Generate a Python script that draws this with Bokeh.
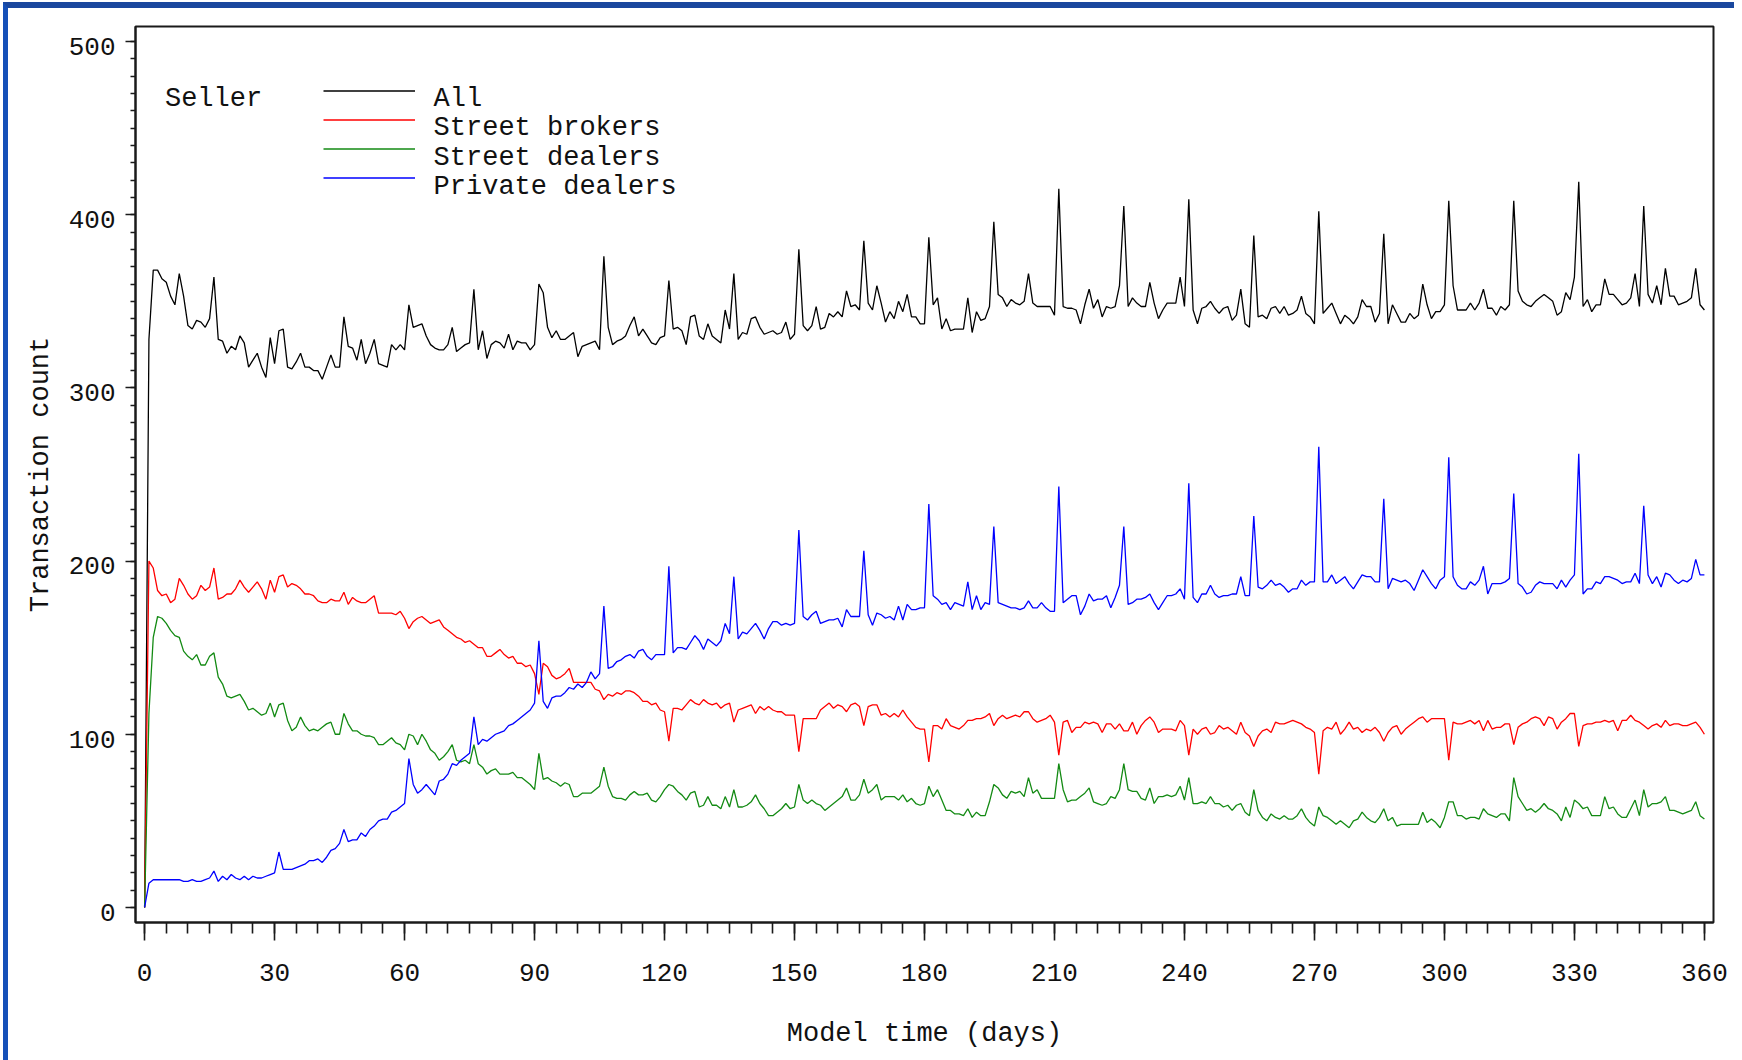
from bokeh.plotting import figure
from bokeh.models import Range1d, FixedTicker, Legend, LegendItem, Label
from bokeh.core.properties import value
from bokeh.embed import file_html
from bokeh.resources import INLINE

# ---------------- data ----------------
days = list(range(0, 361))

all_sellers = [
    0, 328, 368, 368, 363, 361, 353, 348, 366, 353,
    336, 334, 339, 338, 335, 340, 364, 328, 327, 320,
    324, 322, 330, 326, 312, 316, 320, 312, 306, 329,
    314, 333, 334, 312, 311, 315, 320, 312, 312, 310,
    310, 305, 312, 319, 312, 312, 341, 324, 323, 316,
    328, 314, 320, 328, 314, 313, 312, 325, 322, 325,
    322, 348, 335, 336, 337, 330, 325, 323, 322, 322,
    325, 335, 321, 323, 325, 326, 357, 322, 333, 317,
    325, 327, 326, 323, 331, 322, 327, 326, 326, 322,
    325, 360, 355, 335, 329, 333, 328, 328, 330, 332,
    318, 324, 325, 326, 327, 322, 376, 335, 325, 327,
    328, 330, 336, 341, 330, 334, 330, 326, 325, 329,
    330, 362, 334, 335, 333, 325, 341, 342, 330, 328,
    337, 330, 328, 326, 345, 334, 366, 328, 332, 331,
    340, 341, 335, 331, 332, 333, 331, 332, 338, 328,
    331, 380, 336, 333, 336, 347, 334, 335, 343, 341,
    344, 341, 356, 347, 348, 345, 385, 349, 345, 359,
    349, 338, 344, 340, 350, 344, 354, 341, 341, 337,
    337, 387, 348, 352, 334, 340, 333, 334, 334, 334,
    352, 332, 344, 339, 340, 347, 396, 354, 352, 347,
    351, 349, 348, 350, 366, 349, 347, 347, 347, 347,
    342, 415, 347, 346, 346, 345, 337, 348, 357, 346,
    351, 341, 347, 346, 347, 359, 405, 347, 352, 349,
    347, 347, 361, 349, 340, 345, 349, 349, 349, 364,
    347, 409, 345, 337, 346, 347, 350, 346, 343, 346,
    347, 339, 342, 357, 337, 335, 388, 341, 342, 340,
    346, 347, 343, 347, 342, 343, 345, 353, 343, 341,
    337, 402, 343, 346, 349, 343, 337, 342, 340, 337,
    341, 351, 347, 347, 338, 343, 389, 337, 348, 343,
    338, 338, 343, 340, 342, 360, 348, 340, 344, 344,
    348, 408, 359, 345, 345, 345, 349, 345, 349, 357,
    346, 346, 342, 347, 345, 348, 408, 356, 350, 348,
    347, 350, 352, 354, 352, 350, 342, 344, 355, 351,
    364, 419, 347, 351, 344, 348, 348, 363, 354, 354,
    351, 348, 349, 352, 366, 347, 405, 354, 349, 359,
    348, 369, 353, 353, 348, 349, 350, 352, 369, 348,
    345,
]

street_brokers = [
    0, 200, 196, 183, 180, 181, 176, 178, 190, 186,
    181, 178, 180, 186, 183, 185, 196, 178, 179, 181,
    181, 184, 189, 185, 182, 185, 188, 184, 178, 189,
    182, 191, 192, 185, 187, 186, 184, 181, 181, 180,
    177, 176, 176, 178, 177, 177, 182, 175, 179, 177,
    176, 176, 178, 180, 170, 170, 170, 170, 169, 171,
    167, 161, 165, 167, 168, 166, 164, 165, 166, 162,
    160, 158, 156, 155, 153, 154, 152, 150, 150, 145,
    145, 147, 149, 146, 144, 145, 141, 141, 139, 140,
    135, 123, 141, 139, 134, 132, 133, 135, 138, 130,
    130, 130, 130, 130, 126, 125, 120, 123, 122, 124,
    123, 125, 125, 124, 122, 119, 119, 117, 118, 114,
    113, 96, 115, 115, 114, 117, 120, 118, 117, 120,
    118, 117, 118, 115, 117, 118, 107, 114, 115, 116,
    117, 112, 116, 114, 116, 114, 113, 113, 111, 111,
    111, 90, 109, 109, 109, 109, 114, 116, 118, 115,
    117, 116, 113, 117, 118, 116, 105, 116, 117, 117,
    111, 112, 110, 112, 110, 114, 110, 107, 104, 103,
    103, 84, 105, 105, 103, 109, 105, 104, 103, 105,
    108, 108, 109, 109, 110, 112, 105, 109, 111, 109,
    110, 111, 110, 113, 113, 109, 107, 108, 109, 111,
    107, 88, 107, 108, 101, 104, 104, 107, 106, 107,
    106, 101, 106, 106, 103, 106, 102, 102, 107, 100,
    105, 108, 110, 107, 101, 103, 103, 103, 102, 108,
    105, 88, 103, 100, 103, 104, 100, 101, 105, 103,
    104, 102, 100, 107, 101, 99, 93, 99, 102, 103,
    101, 107, 106, 106, 107, 108, 107, 106, 104, 103,
    101, 77, 102, 104, 103, 107, 100, 103, 107, 103,
    104, 101, 103, 102, 104, 101, 96, 101, 104, 105,
    100, 103, 105, 107, 109, 110, 107, 109, 109, 109,
    109, 85, 107, 106, 106, 107, 108, 106, 108, 102,
    108, 103, 104, 104, 106, 106, 94, 104, 106, 107,
    109, 110, 109, 105, 110, 109, 103, 107, 109, 112,
    112, 93, 105, 106, 106, 107, 107, 108, 107, 108,
    102, 108, 108, 111, 108, 107, 105, 103, 105, 106,
    104, 108, 105, 106, 106, 105, 105, 106, 107, 104,
    100,
]

street_dealers = [
    0, 112, 156, 168, 167, 164, 160, 157, 156, 148,
    145, 143, 146, 140, 140, 145, 147, 133, 129, 122,
    121, 122, 123, 119, 114, 115, 113, 111, 112, 118,
    110, 117, 118, 108, 102, 104, 110, 105, 102, 103,
    102, 104, 106, 107, 100, 100, 112, 106, 102, 102,
    100, 99, 99, 98, 94, 94, 96, 98, 95, 94,
    91, 100, 99, 94, 100, 96, 91, 89, 85, 87,
    90, 94, 85, 84, 85, 83, 94, 83, 81, 77,
    79, 80, 77, 77, 77, 78, 75, 75, 73, 71,
    68, 89, 74, 75, 73, 72, 70, 72, 71, 64,
    64, 66, 66, 66, 68, 70, 81, 70, 64, 63,
    63, 62, 65, 67, 65, 65, 66, 62, 61, 64,
    68, 71, 70, 67, 65, 62, 66, 67, 58, 59,
    64, 59, 59, 57, 64, 58, 68, 58, 58, 59,
    61, 65, 60, 57, 53, 53, 55, 57, 60, 57,
    58, 71, 62, 60, 62, 60, 59, 56, 58, 60,
    62, 64, 69, 62, 62, 65, 74, 66, 68, 71,
    62, 64, 64, 64, 62, 65, 61, 63, 60, 59,
    60, 70, 64, 68, 62, 56, 56, 54, 54, 53,
    57, 52, 55, 53, 53, 61, 71, 69, 65, 63,
    67, 66, 67, 64, 75, 66, 68, 63, 63, 63,
    63, 83, 68, 61, 62, 62, 64, 66, 69, 61,
    60, 59, 60, 64, 63, 68, 83, 68, 67, 67,
    63, 62, 69, 60, 64, 64, 65, 64, 65, 70,
    62, 75, 60, 60, 61, 60, 64, 60, 60, 58,
    59, 56, 59, 60, 55, 53, 68, 56, 52, 50,
    54, 52, 51, 53, 51, 51, 53, 57, 52, 49,
    47, 58, 53, 52, 50, 48, 50, 48, 46, 50,
    51, 55, 52, 50, 49, 52, 57, 50, 52, 47,
    48, 48, 48, 48, 48, 55, 49, 51, 49, 46,
    52, 61, 61, 53, 53, 51, 52, 52, 51, 57,
    54, 53, 52, 54, 54, 50, 75, 64, 60, 56,
    57, 55, 57, 60, 57, 56, 54, 50, 58, 52,
    62, 60, 57, 58, 53, 53, 53, 64, 57, 58,
    54, 52, 52, 57, 62, 53, 68, 58, 60, 60,
    61, 64, 56, 56, 55, 54, 55, 56, 61, 53,
    51,
]

private_dealers = [
    0, 14, 16, 16, 16, 16, 16, 16, 16, 15,
    15, 16, 15, 15, 16, 17, 21, 15, 18, 16,
    19, 17, 16, 18, 16, 18, 17, 17, 18, 19,
    20, 32, 22, 22, 22, 23, 24, 25, 27, 27,
    28, 26, 29, 33, 34, 37, 45, 38, 39, 39,
    43, 41, 45, 47, 50, 51, 51, 55, 56, 58,
    60, 86, 71, 66, 68, 71, 68, 65, 73, 74,
    77, 83, 82, 85, 87, 89, 110, 94, 97, 96,
    98, 100, 101, 102, 105, 106, 108, 110, 112, 114,
    118, 154, 119, 115, 121, 122, 122, 124, 127, 126,
    129, 127, 130, 136, 132, 135, 174, 138, 139, 142,
    143, 145, 146, 144, 148, 149, 145, 143, 146, 146,
    146, 197, 147, 150, 150, 149, 153, 157, 154, 149,
    155, 153, 151, 154, 164, 158, 191, 155, 159, 158,
    161, 164, 160, 155, 161, 165, 165, 163, 164, 163,
    164, 218, 168, 166, 169, 171, 164, 165, 166, 166,
    167, 162, 172, 168, 168, 168, 206, 169, 163, 170,
    169, 167, 168, 166, 174, 166, 175, 172, 172, 173,
    173, 233, 180, 178, 175, 176, 172, 176, 175, 174,
    188, 172, 180, 172, 176, 175, 220, 176, 175, 174,
    173, 173, 172, 173, 177, 173, 173, 176, 173, 171,
    171, 243, 176, 178, 180, 180, 169, 174, 181, 177,
    178, 178, 180, 173, 179, 186, 220, 175, 176, 178,
    178, 179, 181, 176, 172, 176, 180, 180, 181, 184,
    178, 245, 179, 176, 181, 181, 186, 181, 179, 180,
    180, 181, 181, 191, 180, 180, 226, 185, 184, 186,
    189, 186, 187, 185, 182, 184, 184, 189, 186, 188,
    188, 266, 188, 188, 192, 187, 189, 191, 187, 184,
    188, 192, 191, 191, 188, 188, 236, 184, 190, 189,
    188, 189, 187, 183, 189, 195, 191, 187, 184, 189,
    191, 260, 191, 186, 184, 184, 188, 186, 189, 197,
    181, 187, 187, 187, 188, 190, 239, 187, 185, 181,
    182, 186, 188, 187, 187, 187, 184, 189, 185, 189,
    192, 262, 181, 184, 184, 188, 187, 191, 191, 190,
    189, 187, 188, 188, 193, 187, 232, 192, 187, 191,
    185, 193, 192, 189, 187, 189, 188, 190, 201, 192,
    192,
]

series_labels = ["All", "Street brokers", "Street dealers", "Private dealers"]
legend_title = "Seller"
x_title = "Model time (days)"
y_title = "Transaction count"

x_major_ticks = list(range(0, 361, 30))
x_minor_ticks = list(range(0, 361, 5))
y_major_ticks = list(range(0, 501, 100))
y_minor_ticks = list(range(0, 501, 10))

# ---------------- styling ----------------
FONT = "Liberation Mono"
INK = "#111111"
colors = ["#000000", "#ff0000", "#138a13", "#0000ff"]

p = figure(width=1726, height=1052, output_backend="svg", toolbar_location=None,
           x_range=Range1d(-2.1, 362.1), y_range=Range1d(-8.7, 508.7),
           min_border_left=127, min_border_top=18, min_border_right=21,
           min_border_bottom=138)
p.xgrid.visible = False
p.ygrid.visible = False
p.background_fill_color = "white"
p.border_fill_color = "white"
p.outline_line_color = "#1a1a1a"
p.outline_line_width = 2

renderers = []
for vals, col in zip([all_sellers, street_brokers, street_dealers, private_dealers], colors):
    n = min(len(days), len(vals))
    r = p.line(days[:n], vals[:n], line_color=col, line_width=1.3)
    renderers.append(r)

xa = p.xaxis[0]
ya = p.yaxis[0]
xa.ticker = FixedTicker(ticks=x_major_ticks, minor_ticks=x_minor_ticks)
ya.ticker = FixedTicker(ticks=y_major_ticks, minor_ticks=y_minor_ticks)
xa.axis_label = x_title
ya.axis_label = y_title

for ax in (xa, ya):
    ax.axis_line_color = "#1a1a1a"
    ax.axis_line_width = 2
    ax.major_tick_line_color = "#1a1a1a"
    ax.minor_tick_line_color = "#1a1a1a"
    ax.major_tick_line_width = 1.6
    ax.minor_tick_line_width = 1.6
    ax.major_tick_in = 0
    ax.minor_tick_in = 0
    ax.major_label_text_font = FONT
    ax.major_label_text_font_size = "26px"
    ax.major_label_text_color = INK
    ax.axis_label_text_font = FONT
    ax.axis_label_text_font_size = "27px"
    ax.axis_label_text_font_style = "normal"
    ax.axis_label_text_color = INK

# y tick labels sit a little below their ticks in the original
ya.major_label_overrides = {t: "\n" + str(t) for t in y_major_ticks}
ya.major_label_text_line_height = 0.42

ya.major_tick_out = 10
ya.minor_tick_out = 5
ya.major_label_standoff = 10
ya.axis_label_standoff = 10
xa.major_tick_out = 18
xa.minor_tick_out = 11
xa.major_label_standoff = 23
xa.axis_label_standoff = 35

# legend sample lines (Bokeh legend); the entry texts sit a little lower
# than the sample lines in the original, so they are drawn as labels
legend = Legend(
    items=[LegendItem(label=value(" "), renderers=[r]) for r in renderers],
    location=(188, 730), orientation="vertical",
    glyph_width=92, glyph_height=29, label_height=29, label_standoff=17, spacing=0,
    padding=0, margin=0, border_line_alpha=0, background_fill_alpha=0,
    label_text_font=FONT, label_text_font_size="20px", label_text_color=INK,
)
p.add_layout(legend)

legend_text_x = 66.7
legend_text_y = [467.0, 450.0, 432.7, 416.0]
for lab, ty in zip(series_labels, legend_text_y):
    p.add_layout(Label(x=legend_text_x, y=ty, text=lab, text_baseline="middle",
                       text_font=FONT, text_font_size="27px", text_color=INK))

p.add_layout(Label(x=4.7, y=467, text=legend_title, text_baseline="middle",
                   text_font=FONT, text_font_size="27px", text_color=INK))

html = file_html(p, INLINE)
style = ("<style>html{background:#ffffff;overflow:hidden;}"
         "body{margin:2px 8px 0px 3px;border-top:6px solid #1a479e;"
         "border-left:5px solid #1550b8;background:#ffffff;overflow:hidden;}</style>")
html = html.replace("</head>", style + "</head>", 1)
open("out.html", "w").write(html)
